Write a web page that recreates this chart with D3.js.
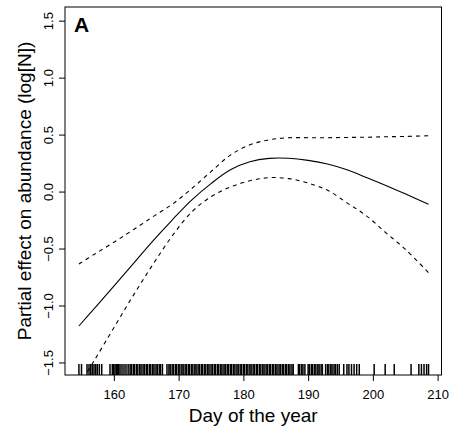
<!DOCTYPE html>
<html><head><meta charset="utf-8">
<script src="https://cdn.jsdelivr.net/npm/d3@7"></script>
<style>
html,body{margin:0;padding:0;background:#fff;}
svg{display:block;font-family:"Liberation Sans",Arial,Helvetica,sans-serif;}
</style></head>
<body>
<svg id="chart" width="449" height="432"></svg>
<script>
// ---- data ----
const days  = [154.6,157,160,163,166,169,172,175,178,181,184,187,190,193,196,199,202,205,208.6];
const fit   = [-1.180,-1.025,-0.829,-0.633,-0.435,-0.250,-0.075,0.070,0.191,0.261,0.291,0.292,0.274,0.242,0.191,0.124,0.054,-0.020,-0.112];
const upper = [-0.636,-0.550,-0.445,-0.335,-0.222,-0.112,0.025,0.175,0.320,0.410,0.455,0.472,0.473,0.473,0.475,0.477,0.481,0.484,0.490];
const lower = [-1.700,-1.480,-1.195,-0.911,-0.642,-0.390,-0.180,-0.045,0.040,0.095,0.122,0.114,0.075,0.011,-0.099,-0.213,-0.361,-0.506,-0.712];
const rugDays = [154.6,155.0,155.85,156.16,156.42,156.67,156.93,157.19,157.44,157.75,158.12,159.4,159.76,159.95,160.17,160.37,160.53,160.74,160.95,161.25,161.56,161.87,
162.2,162.5,162.7,163.0,163.2,163.5,163.7,164.0,164.2,164.5,164.7,165.0,165.2,165.5,165.7,166.0,166.2,166.5,166.7,167.0,167.2,167.5,168.2,168.5,168.7,169.0,169.2,169.5,169.7,170.0,170.2,170.5,170.7,171.0,171.2,171.5,171.7,172.0,172.2,172.5,172.7,173.0,173.2,173.5,173.7,174.0,174.2,174.5,174.7,175.0,175.2,175.5,175.7,176.0,176.2,176.5,176.7,177.0,177.2,177.5,177.7,178.0,178.2,178.5,178.7,179.0,179.2,179.5,179.7,180.0,180.2,180.5,180.7,181.0,181.2,181.5,181.7,182.0,182.2,182.5,182.7,183.0,183.2,183.5,183.7,184.0,184.2,184.5,184.7,185.0,185.2,185.5,185.7,186.0,186.2,186.5,186.7,187.0,187.2,187.5,187.7,188.5,188.7,189.0,189.2,189.5,190.0,190.2,190.5,190.7,191.0,191.2,191.5,191.7,192.0,192.2,192.7,193.0,193.2,193.5,193.7,194.0,194.2,194.5,194.8,
195.5,196.0,196.3,196.7,197.1,197.5,197.9,200.2,201.9,203.3,205.9,207.1,207.5,207.9,208.3,208.6];
const xTicks = [160,170,180,190,200,210];
const yTicks = [-1.5,-1.0,-0.5,0.0,0.5,1.0,1.5];
const xTitle = "Day of the year";
const yTitle = "Partial effect on abundance (log[N])";
const panelLabel = "A";

// ---- layout ----
const L = 65, R = 441.5, T = 7, B = 375;
const x = d3.scaleLinear().domain([152.45, 210.6]).range([L, R]);
const y = d3.scaleLinear().domain([-1.61, 1.62]).range([B, T]);

const svg = d3.select("#chart");

svg.append("defs").append("clipPath").attr("id","clip")
  .append("rect").attr("x",L).attr("y",T).attr("width",R-L).attr("height",B-T);

const g = svg.append("g").attr("clip-path","url(#clip)");

const mk = arr => d3.line().x((d,i)=>x(days[i])).y((d,i)=>y(arr[i])).curve(d3.curveCatmullRom.alpha(0.5));

g.append("path").datum(fit).attr("d", mk(fit))
  .attr("fill","none").attr("stroke","#000").attr("stroke-width",1.1);
g.append("path").datum(upper).attr("d", mk(upper))
  .attr("fill","none").attr("stroke","#000").attr("stroke-width",1.1).attr("stroke-dasharray","4,4");
g.append("path").datum(lower).attr("d", mk(lower))
  .attr("fill","none").attr("stroke","#000").attr("stroke-width",1.1).attr("stroke-dasharray","4,4");

// rug
g.selectAll("line.rug").data(rugDays).enter().append("line")
  .attr("class","rug")
  .attr("x1", d=>x(d)).attr("x2", d=>x(d))
  .attr("y1", B).attr("y2", B - 11)
  .attr("stroke","#000").attr("stroke-width",1.5);

// box
svg.append("rect").attr("x",L).attr("y",T).attr("width",R-L).attr("height",B-T)
  .attr("fill","none").attr("stroke","#000").attr("stroke-width",1);

// x axis
const xa = svg.append("g").attr("transform",`translate(0,${B})`)
  .call(d3.axisBottom(x).tickValues(xTicks).tickSize(6).tickSizeOuter(0).tickFormat(d3.format("d")));
xa.select(".domain").remove();
xa.selectAll("text").attr("font-size",13).attr("font-family","Liberation Sans, Arial, sans-serif").attr("fill","#000").attr("dy",null).attr("y",24);
xa.selectAll("line").attr("stroke","#000");

// y axis
const fmtY = d => (d < 0 ? "\u2212" : "") + Math.abs(d).toFixed(1);
const ya = svg.append("g").attr("transform",`translate(${L},0)`)
  .call(d3.axisLeft(y).tickValues(yTicks).tickSize(6).tickSizeOuter(0).tickFormat(fmtY));
ya.select(".domain").remove();
ya.selectAll("line").attr("stroke","#000");
ya.selectAll("text")
  .attr("font-size",13).attr("font-family","Liberation Sans, Arial, sans-serif").attr("fill","#000")
  .attr("x",null).attr("dy",null)
  .attr("text-anchor","middle")
  .attr("transform","translate(-12,0) rotate(-90)");

// titles
svg.append("text").attr("x",(L+R)/2).attr("y",422).attr("text-anchor","middle")
  .attr("font-size",19).attr("fill","#000").text(xTitle);
svg.append("text").attr("transform",`translate(31,${(T+B)/2}) rotate(-90)`).attr("text-anchor","middle")
  .attr("font-size",19).attr("fill","#000").text(yTitle);

// panel label
svg.append("text").attr("x",74).attr("y",32).attr("font-size",21).attr("font-weight","bold")
  .attr("fill","#000").text(panelLabel);
</script>
</body></html>
